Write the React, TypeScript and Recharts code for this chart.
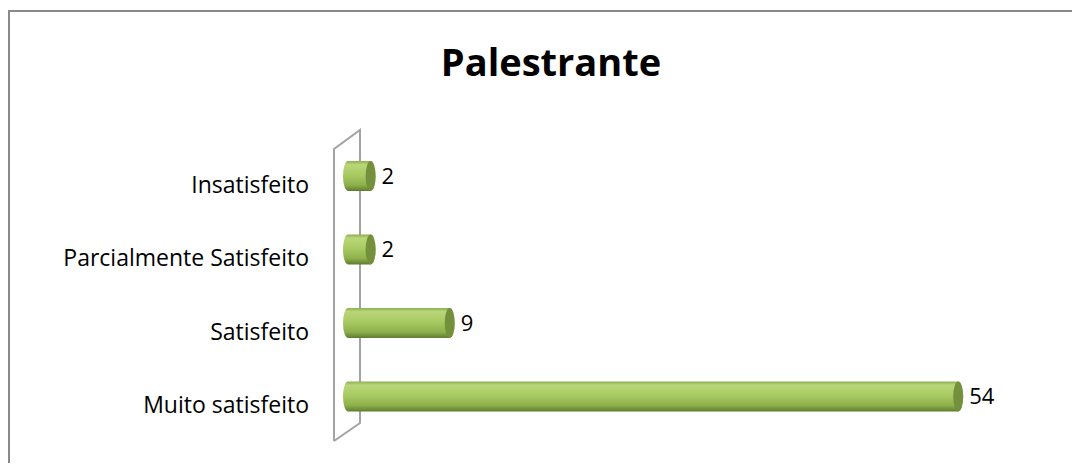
import { BarChart, Bar, XAxis, YAxis, LabelList, Customized } from "recharts";

const categories = ["Insatisfeito", "Parcialmente Satisfeito", "Satisfeito", "Muito satisfeito"];
const counts = [2, 2, 9, 54];

const data = categories.map((name, i) => ({ name, value: counts[i] }));

const FONT = "'Open Sans', 'Liberation Sans', sans-serif";
const W = 1072;
const H = 453;
const MARGIN = { top: 129, right: 54, bottom: 30, left: 0 };
const AXIS_W = 340;

// cylinder-ish horizontal bar, like the old excel 3D look
const Cylinder = (props: any) => {
  const { x, y, width, height, index } = props;
  if (width == null || height == null) return null;
  const rx = 5;
  const ry = height / 2;
  const id = `cyl-${index}`;
  const d = `M ${x},${y} L ${x + width},${y} A ${rx} ${ry} 0 0 1 ${x + width},${y + height} L ${x},${y + height} A ${rx} ${ry} 0 0 1 ${x},${y} Z`;
  return (
    <g>
      <defs>
        <linearGradient id={id} x1="0" y1="0" x2="0" y2="1">
          <stop offset="0%" stopColor="#8fae50" />
          <stop offset="12%" stopColor="#b9d67a" />
          <stop offset="45%" stopColor="#a9cb62" />
          <stop offset="80%" stopColor="#8eb04b" />
          <stop offset="100%" stopColor="#5f7b2f" />
        </linearGradient>
      </defs>
      <path d={d} fill={`url(#${id})`} />
      <ellipse cx={x + width} cy={y + ry} rx={rx} ry={ry} fill="#74903d" />
    </g>
  );
};

const CategoryTick = (props: any) => {
  const { x, y, payload } = props;
  return (
    <text x={x} y={y} dy={17} textAnchor="end" fontFamily={FONT} fontSize={23} fill="#000">
      {payload.value}
    </text>
  );
};

// the tilted back wall of the 3D chart (plot box taken from the margins)
const Wall = () => {
  const left = MARGIN.left + AXIS_W;
  const top = MARGIN.top;
  const bottom = H - MARGIN.bottom;
  const fx = left - 14;
  const bx = left + 12;
  return (
    <polyline
      points={`${fx},${bottom + 8} ${fx},${top + 10} ${bx},${top - 9} ${bx},${bottom - 10} ${fx},${bottom + 8}`}
      fill="none"
      stroke="#a3a3a3"
      strokeWidth={2}
    />
  );
};

const Title = () => (
  <text x={543} y={66} textAnchor="middle" fontFamily={FONT} fontSize={38} fontWeight="bold" fill="#000">
    Palestrante
  </text>
);

export default function App() {
  return (
    <div style={{ position: "relative", width: W, height: H, marginTop: 2 }}>
      <style>{"html, body { overflow: hidden; }"}</style>
      <BarChart width={W} height={H} data={data} layout="vertical" margin={MARGIN}>
        <XAxis type="number" domain={[0, 60]} hide />
        <YAxis
          type="category"
          dataKey="name"
          width={AXIS_W}
          axisLine={false}
          tickLine={false}
          tickSize={0}
          tickMargin={39}
          tick={<CategoryTick />}
          interval={0}
        />
        <Customized component={Wall} />
        <Customized component={Title} />
        <Bar dataKey="value" barSize={30} shape={<Cylinder />} isAnimationActive={false}>
          <LabelList
            dataKey="value"
            position="right"
            offset={11}
            fontFamily={FONT}
            fontSize={22}
            fill="#000"
          />
        </Bar>
      </BarChart>
      <div
        style={{
          position: "absolute",
          left: 0,
          top: 0,
          width: W + 20,
          height: H + 20,
          borderTop: "2px solid #8a8a8a",
          borderLeft: "2px solid #8a8a8a",
          boxSizing: "border-box",
          pointerEvents: "none",
        }}
      />
    </div>
  );
}
